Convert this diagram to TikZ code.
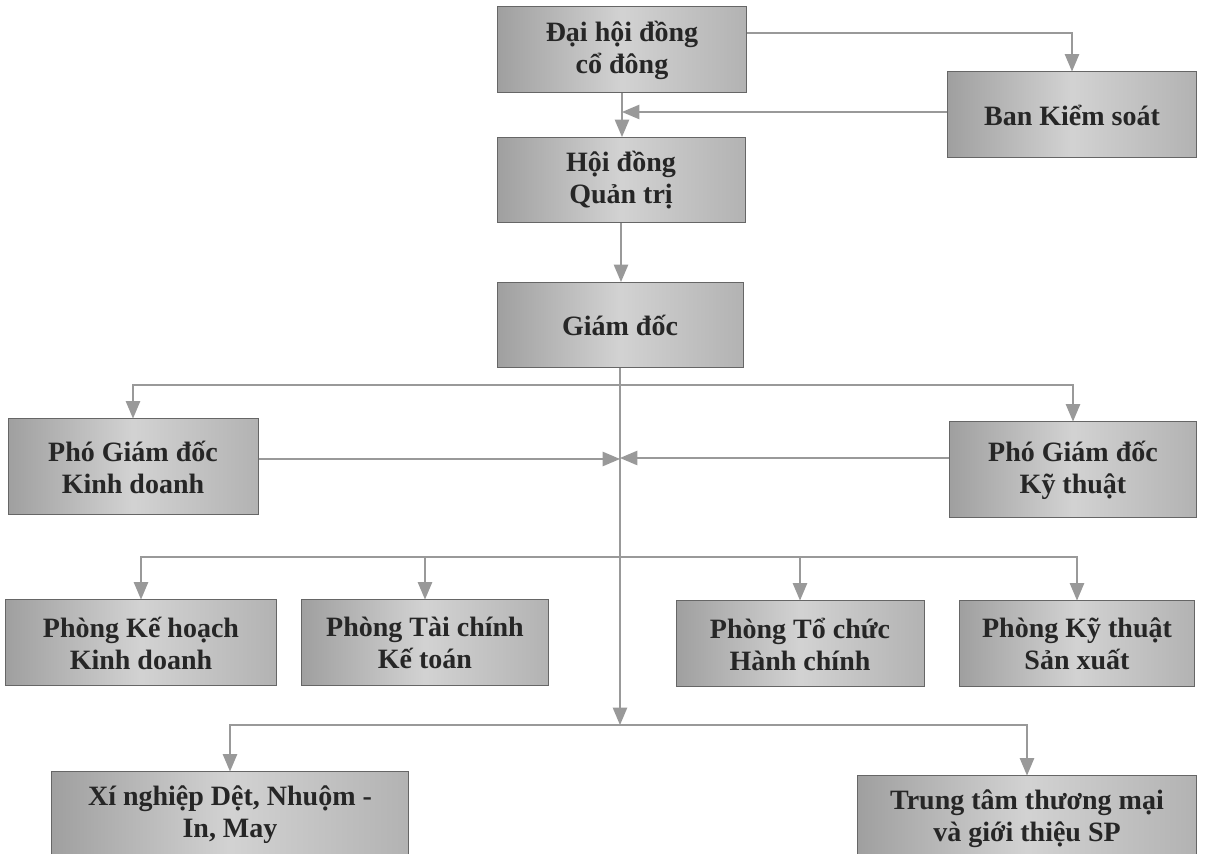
\documentclass[tikz,border=0pt]{standalone}
\usepackage{fontspec}
\setmainfont{Liberation Serif}
\usetikzlibrary{arrows}
\usetikzlibrary{calc}

\begin{document}
\begin{tikzpicture}[x=0.5pt,y=-0.5pt,
  orgbox/.style={draw=black!60, line width=0.5pt, left color=gray!75, right color=gray!60, middle color=gray!35,
    align=center, text=black!85, font=\bfseries\fontsize{14}{16}\selectfont, inner sep=2pt},
  arr/.style={draw=gray!80, line width=1pt, ->, >=triangle 45}]
\useasboundingbox (0,0) rectangle (1205,854);
% top
\node[orgbox, minimum width=124.5pt, minimum height=43pt] (dhd) at (622,50) {Đại hội đồng\\cổ đông};
\node[orgbox, minimum width=124.5pt, minimum height=43pt] (bks) at (1072,115) {Ban Kiểm soát};
\node[orgbox, minimum width=124pt, minimum height=42.5pt] (hdqt) at (621,180) {Hội đồng\\Quản trị};
\node[orgbox, minimum width=123pt, minimum height=42.5pt] (gd) at (620,325) {Giám đốc};
% pho giam doc
\node[orgbox, minimum width=125pt, minimum height=48pt] (pgdkd) at (133,467) {Phó Giám đốc\\Kinh doanh};
\node[orgbox, minimum width=123.5pt, minimum height=48pt] (pgdkt) at (1073,470) {Phó Giám đốc\\Kỹ thuật};
% phong ban
\node[orgbox, minimum width=135.5pt, minimum height=43pt] (pkhkd) at (141,643) {Phòng Kế hoạch\\Kinh doanh};
\node[orgbox, minimum width=123.5pt, minimum height=43pt] (ptckt) at (425,643) {Phòng Tài chính\\Kế toán};
\node[orgbox, minimum width=124pt, minimum height=43pt] (ptchc) at (800,644) {Phòng Tổ chức\\Hành chính};
\node[orgbox, minimum width=117.5pt, minimum height=43pt] (pktsx) at (1077,644) {Phòng Kỹ thuật\\Sản xuất};
% don vi
\node[orgbox, minimum width=178.5pt, minimum height=43pt] (xn) at (230,815) {Xí nghiệp Dệt, Nhuộm -\\In, May};
\node[orgbox, minimum width=169.5pt, minimum height=43pt] (ttm) at (1027,819) {Trung tâm thương mại\\và giới thiệu SP};
% junctions
\coordinate (b1) at (620,385);
\coordinate (b2) at (620,557);
\coordinate (b3) at (620,725);
\draw[arr] ([yshift=8.5pt]dhd.east) -| (bks.north);
\draw[arr] ([yshift=1.5pt]bks.west) -- ([yshift=1.5pt]bks.west -| dhd.south);
\draw[arr] (dhd.south) -- (dhd.south |- hdqt.north);
\draw[arr] (hdqt.south) -- (hdqt.south |- gd.north);
\draw[arr] (gd.south) -- (b3);
\foreach \n in {pgdkd,pgdkt} {
 \draw[arr] (b1) -| (\n.north);
}
\draw[arr] ([yshift=4pt]pgdkd.east) -- ([yshift=4pt]pgdkd.east -| gd.south);
\draw[arr] ([yshift=6pt]pgdkt.west) -- ([yshift=6pt]pgdkt.west -| gd.south);
\foreach \n in {pkhkd,ptckt,ptchc,pktsx} {
 \draw[arr] (b2) -| (\n.north);
}
\foreach \n in {xn,ttm} {
 \draw[arr] (b3) -| (\n.north);
}
\end{tikzpicture}
\end{document}
